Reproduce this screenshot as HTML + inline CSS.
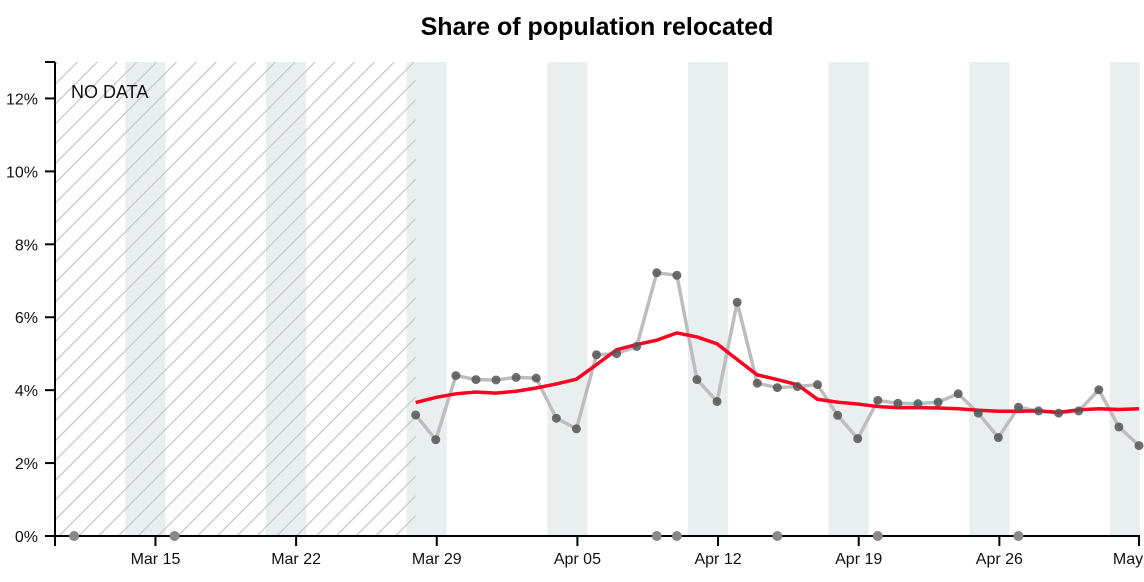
<!DOCTYPE html>
<html><head><meta charset="utf-8"><style>
body{margin:0;background:#fff;font-family:"Liberation Sans",sans-serif;}
svg{display:block}
</style></head><body>
<svg id="chart" width="1144" height="582">
<defs>
<pattern id="hatch" patternUnits="userSpaceOnUse" width="14" height="14" patternTransform="rotate(45)">
<line x1="0" y1="0" x2="0" y2="14" stroke="#c6c6c6" stroke-width="2.5"/>
</pattern>
</defs>
<text x="597" y="35" text-anchor="middle" font-size="25" font-weight="bold" fill="#000">Share of population relocated</text>
<g id="bands"></g>
<g id="nodata"></g>
<g id="axes"></g>
<g id="series"></g>
</svg>
<script>
const startDay = "2020-03-28";
const dailyValues = [3.32,2.64,4.40,4.29,4.28,4.35,4.33,3.23,2.94,4.97,5.00,5.20,7.22,7.15,4.29,3.69,6.41,4.19,4.07,4.10,4.15,3.31,2.67,3.72,3.64,3.63,3.67,3.90,3.37,2.70,3.53,3.43,3.37,3.43,4.01,2.99,2.48];
const avgValues = [3.66,3.80,3.90,3.95,3.92,3.97,4.06,4.17,4.30,4.70,5.11,5.25,5.37,5.57,5.46,5.27,4.84,4.42,4.29,4.15,3.75,3.67,3.62,3.55,3.52,3.52,3.51,3.49,3.45,3.42,3.42,3.43,3.39,3.46,3.49,3.47,3.49];
const zeroDates = ["2020-03-11","2020-03-16","2020-04-09","2020-04-10","2020-04-15","2020-04-20","2020-04-27"];
const yTicks = [0,2,4,6,8,10,12];
const xTickDates = ["2020-03-15","2020-03-22","2020-03-29","2020-04-05","2020-04-12","2020-04-19","2020-04-26","2020-05-03"];
const xTickLabels = ["Mar 15","Mar 22","Mar 29","Apr 05","Apr 12","Apr 19","Apr 26","May"];

const NS="http://www.w3.org/2000/svg";
const L=55,R=1140,T=62,B=536;
const d0=Date.UTC(2020,2,10), d1=Date.UTC(2020,4,3);
function pd(s){const [y,m,d]=s.split("-").map(Number);return Date.UTC(y,m-1,d);}
function x(t){return L+(t-d0)/(d1-d0)*(R-L);}
function y(v){return B-v/13*(B-T);}
const DAY=86400000;
function mk(tag,attrs,parent){const e=document.createElementNS(NS,tag);for(const k in attrs)e.setAttribute(k,attrs[k]);parent.appendChild(e);return e;}
const bands=document.getElementById('bands'),nod=document.getElementById('nodata'),axes=document.getElementById('axes'),ser=document.getElementById('series');

for(let t=d0;t<=d1;t+=DAY){
  const wd=new Date(t).getUTCDay();
  if(wd===6){
    const a=Math.max(L,x(t-DAY/2)),b=Math.min(R,x(t+1.5*DAY));
    const r=mk('rect',{x:a,y:T,width:b-a,height:B-T,fill:'#e9efef'},bands);
    
    
  }
}
const s0=pd(startDay);
const h=mk('rect',{x:L,y:T,width:x(s0)-L-1,height:B-T,fill:'url(#hatch)'},nod);


const nt=mk('text',{x:71,y:98,'font-size':18,fill:'#111'},nod);nt.textContent='NO DATA';



mk('line',{x1:L,y1:T,x2:L,y2:B,stroke:'#000','stroke-width':2},axes);
mk('line',{x1:L-10,y1:T,x2:L,y2:T,stroke:'#000','stroke-width':2},axes);
yTicks.forEach(v=>{
  mk('line',{x1:L-10,y1:y(v),x2:L,y2:y(v),stroke:'#000','stroke-width':2},axes);
  const tx=mk('text',{x:38,y:y(v)+6,'text-anchor':'end','font-size':16,fill:'#111'},axes);
  tx.textContent=v+'%';
  
  
});
mk('line',{x1:L,y1:B,x2:R,y2:B,stroke:'#000','stroke-width':2},axes);
mk('line',{x1:L,y1:B,x2:L,y2:B+10,stroke:'#000','stroke-width':2},axes);
xTickDates.forEach((s,i)=>{
  const xx=Math.min(x(pd(s)),R-1);
  mk('line',{x1:xx,y1:B,x2:xx,y2:B+10,stroke:'#000','stroke-width':2},axes);
  const tx=mk('text',{x:i===xTickDates.length-1?1128:xx,y:564,'text-anchor':'middle','font-size':16,fill:'#111'},axes);
  tx.textContent=xTickLabels[i];
  
  
});

const pts=dailyValues.map((v,i)=>[x(s0+i*DAY)-1,y(v)]);
const dl=mk('polyline',{points:pts.map(p=>p.join(',')).join(' '),fill:'none',stroke:'#bdbdbd','stroke-width':3.5},ser);


const ap=avgValues.map((v,i)=>[x(s0+i*DAY)-1,y(v)]);
const al=mk('polyline',{points:ap.map(p=>p.join(',')).join(' '),fill:'none',stroke:'#ff0022','stroke-width':3.5},ser);


pts.forEach(p=>{
  const c=mk('circle',{cx:p[0],cy:p[1],r:4.5,fill:'#555','fill-opacity':0.85},ser);
  
  
});
zeroDates.forEach(s=>{
  const c=mk('circle',{cx:x(pd(s))-1,cy:B,r:5,fill:'#888'},ser);
  
  
});
</script>
</body></html>
